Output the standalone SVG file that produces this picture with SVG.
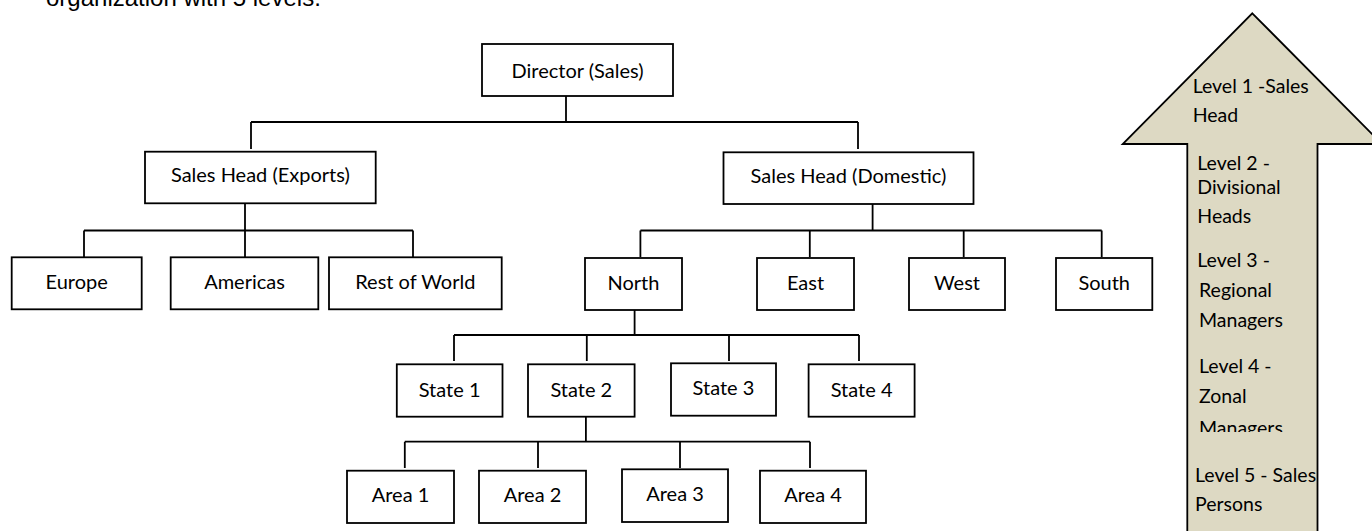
<svg xmlns="http://www.w3.org/2000/svg" width="1372" height="531" viewBox="0 0 1372 531">
  <style>
    .box { fill: #ffffff; stroke: #000000; stroke-width: 1.8; }
    .lbl { font-family: Lato, "Liberation Sans", sans-serif; font-size: 20px; fill: #000000; text-anchor: middle; }
    .lvl { font-family: Lato, "Liberation Sans", sans-serif; font-size: 19.5px; fill: #000000; }
    .wire { fill: none; stroke: #000000; stroke-width: 1.8; }
    .arrow { fill: #DDD9C3; stroke: #000000; stroke-width: 1.8; stroke-linejoin: miter; }
  </style>
  <defs>
    <clipPath id="lvl4clip">
      <rect x="1190" y="340" width="126" height="92"/>
    </clipPath>
  </defs>

  <rect width="1372" height="531" fill="#ffffff"/>

  <!-- caption line above the chart (top of it runs off the page) -->
  <text x="46" y="5.5" font-family="'Liberation Sans', Arial, sans-serif" font-size="24" fill="#000000">organization with 5 levels.</text>

  <!-- connectors -->
  <g id="connectors" class="wire">
    <path d="M566 96 V122 M251 122 H858 M251 122 V149 M858 122 V149"/>
    <path d="M245 203.5 V258 M84 230.5 H413 M84 230.5 V257 M413 230.5 V257"/>
    <path d="M872.6 204 V230.5 M640.4 230.5 H1101.7 M640.4 230.5 V257 M809.8 230.5 V257 M963.7 230.5 V257 M1101.7 230.5 V257"/>
    <path d="M634.6 310 V335 M454 335 H859 M454 335 V361 M586.8 335 V361 M729 335 V361 M859 335 V361"/>
    <path d="M585.9 416.7 V441.7 M404.8 441.7 H810 M404.8 441.7 V468 M538 441.7 V468 M680 441.7 V468 M810 441.7 V468"/>
  </g>

  <!-- level 1 -->
  <g id="director">
    <rect class="box" x="482" y="44" width="191" height="52"/>
    <text class="lbl" x="577.5" y="77.5">Director (Sales)</text>
  </g>

  <!-- level 2 -->
  <g id="head-exports">
    <rect class="box" x="145" y="151.7" width="230.7" height="51.6"/>
    <text class="lbl" x="260.4" y="182.3">Sales Head (Exports)</text>
  </g>
  <g id="head-domestic">
    <rect class="box" x="723.5" y="152.3" width="250" height="51.7"/>
    <text class="lbl" x="848.5" y="183">Sales Head (Domestic)</text>
  </g>

  <!-- level 3 -->
  <g id="europe">
    <rect class="box" x="11.7" y="257.3" width="130" height="52"/>
    <text class="lbl" x="76.7" y="288.5">Europe</text>
  </g>
  <g id="americas">
    <rect class="box" x="170.7" y="257.3" width="147.6" height="52"/>
    <text class="lbl" x="244.5" y="288.5">Americas</text>
  </g>
  <g id="rest-of-world">
    <rect class="box" x="329" y="257.3" width="172.7" height="52"/>
    <text class="lbl" x="415.3" y="288.5">Rest of World</text>
  </g>
  <g id="north">
    <rect class="box" x="585" y="258" width="97" height="52"/>
    <text class="lbl" x="633.5" y="290">North</text>
  </g>
  <g id="east">
    <rect class="box" x="757" y="258" width="97" height="52"/>
    <text class="lbl" x="805.5" y="290">East</text>
  </g>
  <g id="west">
    <rect class="box" x="909" y="258" width="96" height="52"/>
    <text class="lbl" x="957" y="290">West</text>
  </g>
  <g id="south">
    <rect class="box" x="1056" y="258" width="96.3" height="52"/>
    <text class="lbl" x="1104.2" y="290">South</text>
  </g>

  <!-- level 4 -->
  <g id="state-1">
    <rect class="box" x="396.8" y="364.3" width="105.7" height="52.4"/>
    <text class="lbl" x="449.6" y="396.7">State 1</text>
  </g>
  <g id="state-2">
    <rect class="box" x="528" y="364.3" width="106.6" height="52.4"/>
    <text class="lbl" x="581.3" y="396.7">State 2</text>
  </g>
  <g id="state-3">
    <rect class="box" x="671" y="363.3" width="105" height="52.4"/>
    <text class="lbl" x="723.5" y="395">State 3</text>
  </g>
  <g id="state-4">
    <rect class="box" x="808.6" y="364.3" width="106" height="52.4"/>
    <text class="lbl" x="861.6" y="396.7">State 4</text>
  </g>

  <!-- level 5 -->
  <g id="area-1">
    <rect class="box" x="347" y="470.7" width="107" height="52.3"/>
    <text class="lbl" x="400.5" y="501.7">Area 1</text>
  </g>
  <g id="area-2">
    <rect class="box" x="479" y="470.7" width="107" height="52.3"/>
    <text class="lbl" x="532.5" y="501.7">Area 2</text>
  </g>
  <g id="area-3">
    <rect class="box" x="622" y="469.3" width="106" height="52.7"/>
    <text class="lbl" x="675" y="500.7">Area 3</text>
  </g>
  <g id="area-4">
    <rect class="box" x="760" y="470.7" width="106" height="52.3"/>
    <text class="lbl" x="813" y="501.7">Area 4</text>
  </g>

  <!-- upward block arrow listing the levels -->
  <g id="level-arrow">
    <polygon class="arrow" points="1252.3,13.3 1382,144 1317.5,144 1317.5,545 1187.3,545 1187.3,144 1122.7,144"/>
    <text class="lvl" x="1192.7" y="92.7">Level 1 -Sales</text>
    <text class="lvl" x="1192.7" y="122">Head</text>
    <text class="lvl" x="1197.3" y="170">Level 2 -</text>
    <text class="lvl" x="1197.3" y="194.3">Divisional</text>
    <text class="lvl" x="1197.3" y="223.3">Heads</text>
    <text class="lvl" x="1197.3" y="266.7">Level 3 -</text>
    <text class="lvl" x="1199" y="296.7">Regional</text>
    <text class="lvl" x="1199" y="326.7">Managers</text>
    <g clip-path="url(#lvl4clip)">
      <text class="lvl" x="1199" y="373.3">Level 4 -</text>
      <text class="lvl" x="1199" y="402.7">Zonal</text>
      <text class="lvl" x="1199" y="434.5">Managers</text>
    </g>
    <text class="lvl" x="1195" y="481.7">Level 5 - Sales</text>
    <text class="lvl" x="1195" y="510.7">Persons</text>
  </g>
</svg>
